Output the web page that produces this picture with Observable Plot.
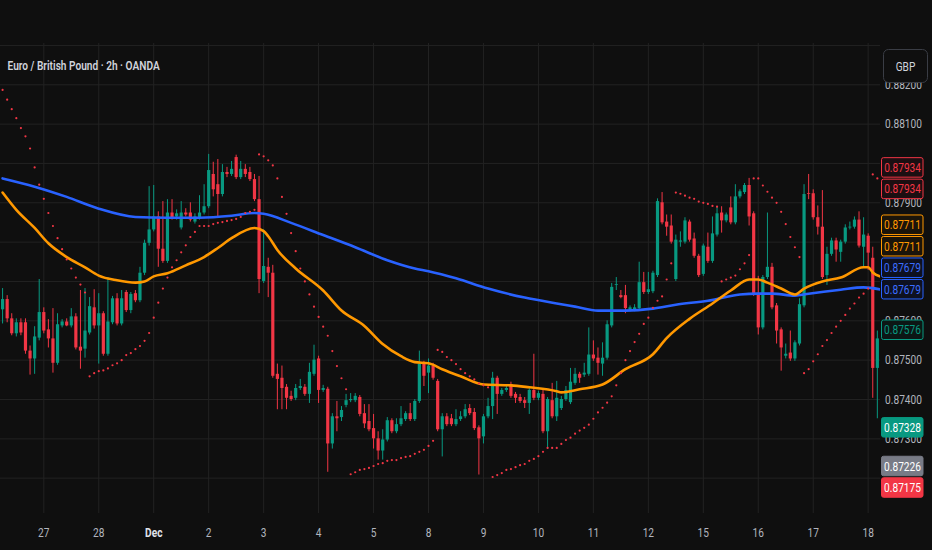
<!DOCTYPE html>
<html><head><meta charset="utf-8">
<script src="https://cdn.jsdelivr.net/npm/d3@7"></script>
<script src="https://cdn.jsdelivr.net/npm/@observablehq/plot@0.6"></script>
<style>
html,body{margin:0;padding:0;background:#0f0f0f;}
#chart svg{display:block}
</style></head><body><div id="chart"></div>
<script>
// ---- Data: EUR/GBP 2h candles ----
const open = [0.87628,0.87654,0.87605,0.87567,0.87595,0.87595,0.87523,0.87503,0.87556,0.87621,
0.87577,0.87554,0.87492,0.87587,0.87597,0.87587,0.87610,0.87533,0.87528,0.87569,
0.87633,0.87587,0.87618,0.87515,0.87595,0.87656,0.87592,0.87672,0.87626,0.87669,
0.87651,0.87721,0.87797,0.87831,0.87864,0.87782,0.87751,0.87874,0.87864,0.87836,
0.87874,0.87874,0.87851,0.87862,0.87874,0.87890,0.87972,0.87946,0.87921,0.87977,
0.87972,0.88015,0.87964,0.87985,0.87977,0.87959,0.87908,0.87700,0.87736,0.87721,
0.87464,0.87454,0.87431,0.87408,0.87403,0.87428,0.87431,0.87413,0.87464,0.87503,
0.87423,0.87426,0.87287,0.87356,0.87354,0.87385,0.87397,0.87397,0.87405,0.87364,
0.87344,0.87326,0.87300,0.87269,0.87297,0.87346,0.87318,0.87336,0.87349,0.87364,
0.87349,0.87395,0.87492,0.87467,0.87485,0.87446,0.87323,0.87356,0.87351,0.87336,
0.87349,0.87356,0.87377,0.87367,0.87328,0.87305,0.87356,0.87382,0.87454,0.87413,
0.87423,0.87438,0.87413,0.87405,0.87397,0.87390,0.87423,0.87403,0.87413,0.87318,
0.87397,0.87356,0.87377,0.87400,0.87392,0.87441,0.87464,0.87462,0.87464,0.87513,
0.87505,0.87490,0.87505,0.87587,0.87690,0.87664,0.87664,0.87628,0.87628,0.87631,
0.87697,0.87672,0.87674,0.87715,0.87900,0.87851,0.87841,0.87705,0.87800,0.87800,
0.87851,0.87808,0.87764,0.87718,0.87787,0.87751,0.87818,0.87874,0.87854,0.87887,
0.87849,0.87915,0.87926,0.87944,0.87872,0.87669,0.87582,0.87710,0.87736,0.87638,
0.87577,0.87510,0.87518,0.87503,0.87541,0.87638,0.87923,0.87923,0.87862,0.87838,
0.87715,0.87769,0.87803,0.87774,0.87800,0.87836,0.87838,0.87856,0.87787,0.87815,
0.87759,0.87479,0.87554];
const high = [0.87682,0.87664,0.87618,0.87605,0.87605,0.87605,0.87536,0.87585,0.87705,0.87633,
0.87603,0.87631,0.87618,0.87603,0.87605,0.87631,0.87618,0.87677,0.87682,0.87659,
0.87679,0.87669,0.87623,0.87710,0.87662,0.87669,0.87677,0.87677,0.87672,0.87677,
0.87736,0.87805,0.87941,0.87944,0.87877,0.87903,0.87908,0.87908,0.87882,0.87903,
0.87885,0.87900,0.87872,0.87918,0.87946,0.88023,0.88003,0.88010,0.87997,0.87990,
0.88005,0.88021,0.88005,0.87997,0.87990,0.87972,0.87967,0.87831,0.87759,0.87741,
0.87490,0.87485,0.87438,0.87421,0.87438,0.87451,0.87438,0.87492,0.87538,0.87510,
0.87436,0.87431,0.87364,0.87395,0.87382,0.87413,0.87415,0.87415,0.87410,0.87387,
0.87387,0.87362,0.87318,0.87323,0.87354,0.87351,0.87351,0.87382,0.87369,0.87390,
0.87400,0.87523,0.87497,0.87503,0.87492,0.87451,0.87364,0.87364,0.87362,0.87374,
0.87369,0.87387,0.87387,0.87377,0.87333,0.87362,0.87403,0.87469,0.87459,0.87428,
0.87436,0.87444,0.87418,0.87413,0.87405,0.87428,0.87515,0.87421,0.87428,0.87405,
0.87441,0.87446,0.87408,0.87433,0.87479,0.87479,0.87469,0.87492,0.87582,0.87549,
0.87531,0.87544,0.87600,0.87695,0.87710,0.87677,0.87690,0.87638,0.87641,0.87749,
0.87723,0.87723,0.87726,0.87910,0.87926,0.87869,0.87869,0.87818,0.87826,0.87862,
0.87856,0.87823,0.87769,0.87795,0.87823,0.87864,0.87890,0.87890,0.87874,0.87915,
0.87946,0.87933,0.87949,0.87962,0.87877,0.87713,0.87715,0.87874,0.87746,0.87644,
0.87582,0.87541,0.87574,0.87549,0.87656,0.87946,0.87972,0.87933,0.87892,0.87931,
0.87787,0.87810,0.87810,0.87805,0.87844,0.87851,0.87864,0.87877,0.87862,0.87821,
0.87787,0.87574,0.87582];
const low = [0.87592,0.87595,0.87562,0.87559,0.87562,0.87515,0.87462,0.87464,0.87549,0.87567,
0.87531,0.87467,0.87487,0.87582,0.87585,0.87582,0.87526,0.87477,0.87505,0.87564,
0.87579,0.87490,0.87510,0.87510,0.87590,0.87587,0.87587,0.87621,0.87618,0.87646,
0.87646,0.87715,0.87790,0.87826,0.87736,0.87746,0.87746,0.87856,0.87856,0.87831,
0.87864,0.87851,0.87846,0.87856,0.87869,0.87885,0.87915,0.87864,0.87915,0.87964,
0.87967,0.87959,0.87959,0.87964,0.87954,0.87903,0.87669,0.87695,0.87659,0.87454,
0.87374,0.87374,0.87374,0.87395,0.87397,0.87423,0.87408,0.87390,0.87459,0.87390,
0.87418,0.87215,0.87274,0.87318,0.87344,0.87379,0.87392,0.87392,0.87356,0.87326,
0.87318,0.87274,0.87246,0.87246,0.87292,0.87313,0.87313,0.87331,0.87344,0.87344,
0.87344,0.87390,0.87433,0.87415,0.87449,0.87318,0.87254,0.87331,0.87331,0.87331,
0.87344,0.87351,0.87359,0.87321,0.87208,0.87287,0.87351,0.87349,0.87362,0.87408,
0.87418,0.87403,0.87390,0.87390,0.87377,0.87362,0.87397,0.87397,0.87313,0.87274,
0.87351,0.87344,0.87372,0.87395,0.87387,0.87436,0.87441,0.87456,0.87459,0.87497,
0.87462,0.87459,0.87500,0.87582,0.87677,0.87656,0.87618,0.87623,0.87623,0.87626,
0.87667,0.87667,0.87669,0.87710,0.87844,0.87815,0.87795,0.87700,0.87787,0.87795,
0.87800,0.87759,0.87710,0.87713,0.87746,0.87746,0.87813,0.87823,0.87849,0.87844,
0.87844,0.87910,0.87921,0.87841,0.87662,0.87564,0.87577,0.87705,0.87628,0.87541,
0.87472,0.87503,0.87497,0.87497,0.87536,0.87633,0.87908,0.87856,0.87818,0.87705,
0.87690,0.87764,0.87749,0.87749,0.87795,0.87831,0.87833,0.87785,0.87736,0.87728,
0.87403,0.87351,0.87549];
const close = [0.87654,0.87605,0.87567,0.87595,0.87569,0.87523,0.87503,0.87559,0.87621,0.87574,
0.87554,0.87492,0.87590,0.87597,0.87587,0.87610,0.87531,0.87523,0.87574,0.87636,
0.87587,0.87618,0.87515,0.87597,0.87656,0.87592,0.87656,0.87626,0.87667,0.87651,
0.87721,0.87797,0.87831,0.87864,0.87782,0.87751,0.87874,0.87862,0.87872,0.87874,
0.87869,0.87856,0.87864,0.87874,0.87890,0.87982,0.87933,0.87921,0.87977,0.87972,
0.87985,0.87964,0.87985,0.87972,0.87959,0.87908,0.87705,0.87738,0.87721,0.87459,
0.87451,0.87428,0.87403,0.87400,0.87428,0.87433,0.87413,0.87469,0.87500,0.87423,
0.87428,0.87287,0.87356,0.87351,0.87372,0.87397,0.87400,0.87408,0.87362,0.87338,
0.87323,0.87300,0.87269,0.87297,0.87346,0.87318,0.87336,0.87351,0.87364,0.87349,
0.87395,0.87490,0.87459,0.87485,0.87454,0.87323,0.87356,0.87336,0.87336,0.87349,
0.87356,0.87374,0.87364,0.87326,0.87300,0.87356,0.87382,0.87454,0.87413,0.87423,
0.87428,0.87408,0.87403,0.87395,0.87390,0.87423,0.87403,0.87415,0.87318,0.87400,
0.87356,0.87403,0.87400,0.87423,0.87444,0.87464,0.87454,0.87467,0.87513,0.87503,
0.87492,0.87505,0.87590,0.87685,0.87692,0.87659,0.87631,0.87633,0.87633,0.87697,
0.87672,0.87679,0.87721,0.87903,0.87849,0.87838,0.87800,0.87805,0.87803,0.87854,
0.87805,0.87764,0.87715,0.87790,0.87751,0.87821,0.87872,0.87854,0.87869,0.87849,
0.87915,0.87928,0.87944,0.87864,0.87667,0.87582,0.87710,0.87736,0.87633,0.87574,
0.87531,0.87515,0.87503,0.87544,0.87641,0.87921,0.87921,0.87862,0.87838,0.87710,
0.87769,0.87803,0.87780,0.87800,0.87836,0.87838,0.87856,0.87790,0.87818,0.87772,
0.87479,0.87554,0.87576];
// Parabolic SAR, one dot per candle
const sar = [0.88187,0.88162,0.88138,0.88115,0.88090,0.88069,0.88038,0.87990,0.87946,0.87910,
0.87874,0.87841,0.87810,0.87782,0.87756,0.87733,0.87710,0.87692,0.87672,0.87459,
0.87467,0.87472,0.87474,0.87479,0.87487,0.87492,0.87500,0.87513,0.87518,0.87528,
0.87536,0.87549,0.87569,0.87608,0.87646,0.87682,0.87710,0.87736,0.87754,0.87774,
0.87792,0.87813,0.87826,0.87841,0.87841,0.87841,0.87846,0.87849,0.87851,0.87854,
0.87856,0.87859,0.87864,0.87874,0.87877,0.87882,0.88023,0.88018,0.88008,0.87995,
0.87962,0.87915,0.87872,0.87823,0.87777,0.87733,0.87700,0.87667,0.87636,0.87610,
0.87585,0.87562,0.87523,0.87485,0.87454,0.87426,0.87210,0.87215,0.87221,0.87223,
0.87226,0.87231,0.87236,0.87238,0.87244,0.87246,0.87246,0.87251,0.87254,0.87256,
0.87262,0.87267,0.87272,0.87282,0.87295,0.87526,0.87521,0.87508,0.87500,0.87490,
0.87477,0.87467,0.87459,0.87451,0.87441,0.87436,0.87431,0.87203,0.87208,0.87213,
0.87221,0.87223,0.87228,0.87233,0.87236,0.87244,0.87249,0.87256,0.87267,0.87277,
0.87277,0.87277,0.87287,0.87297,0.87303,0.87313,0.87321,0.87328,0.87336,0.87351,
0.87367,0.87379,0.87392,0.87408,0.87436,0.87467,0.87500,0.87523,0.87546,0.87567,
0.87592,0.87608,0.87633,0.87651,0.87662,0.87705,0.87746,0.87926,0.87923,0.87918,
0.87913,0.87910,0.87903,0.87900,0.87897,0.87892,0.87890,0.87700,0.87705,0.87710,
0.87715,0.87731,0.87746,0.87767,0.87962,0.87962,0.87944,0.87928,0.87913,0.87900,
0.87877,0.87846,0.87813,0.87787,0.87762,0.87467,0.87477,0.87497,0.87515,0.87536,
0.87551,0.87569,0.87585,0.87600,0.87615,0.87631,0.87644,0.87659,0.87669,0.87682,
0.87972,0.87962,0.87954];
// Moving averages, sampled at candle indices
const slowIdx = [0,7,14,21,29,36,43,50,55,57,63,70,77,84,90,93,99,106,114,121,125,130,136,142,147,154,161,165,168,173,176,183,188,192];
const slowVal = [0.87962,0.87941,0.87915,0.87885,0.87864,0.87862,0.87862,0.87867,0.87874,0.87872,
0.87849,0.87818,0.87787,0.87754,0.87733,0.87726,0.87708,0.87682,0.87659,0.87644,
0.87636,0.87626,0.87626,0.87631,0.87641,0.87651,0.87667,0.87669,0.87669,0.87664,
0.87669,0.87679,0.87685,0.87679];
const fastIdx = [0,3,7,10,14,18,21,25,29,31,33,36,40,44,47,50,55,57,58,60,64,70,74,79,83,87,90,93,96,100,105,111,115,121,122,126,131,136,142,145,150,155,159,163,165,167,170,173,175,179,183,188,189,190,192];
const fastVal = [0.87926,0.87882,0.87836,0.87797,0.87762,0.87736,0.87715,0.87703,0.87697,0.87700,
0.87713,0.87721,0.87741,0.87762,0.87785,0.87810,0.87836,0.87828,0.87815,0.87780,
0.87733,0.87677,0.87626,0.87587,0.87541,0.87510,0.87495,0.87492,0.87477,0.87459,
0.87438,0.87436,0.87431,0.87421,0.87418,0.87426,0.87438,0.87477,0.87515,0.87556,
0.87605,0.87644,0.87677,0.87705,0.87705,0.87697,0.87682,0.87667,0.87682,0.87700,
0.87710,0.87736,0.87736,0.87723,0.87711];
// Axis ticks
const gridTicks  = [0.872,0.873,0.874,0.875,0.876,0.877,0.878,0.879,0.880,0.881,0.882,0.883];
const priceTicks = [0.872,0.873,0.874,0.875,0.876,0.877,0.878,0.879,0.880,0.881,0.882];
const dayTickBar = [9,21,33,45,57,69,81,93,105,117,129,141,153,165,177,189];
const dayLabels = ["27","28","Dec","2","3","4","5","8","9","10","11","12","15","16","17","18"];
// Right-hand value labels
const markerValues = [0.87934,0.87934,0.87711,0.87711,0.87679,0.87679,0.87576,0.87328,0.87226,0.87175];
const markerKinds  = ["sar","sar","fast","fast","slow","slow","last","bid","mid","ask"];
const titleText = "Euro / British Pound · 2h · OANDA";
const currencyText = "GBP";

// ---- Build ----
const W = 932, H = 550, MT = 43, MB = 37, ML = 0, MR = 52;
const yDomain = [0.871102, 0.883049];
const UP = "#089981", DN = "#f23645";
const bars = open.map((o, i) => ({i, open: o, high: high[i], low: low[i], close: close[i], c: close[i] >= o ? UP : DN}));
const sarPts = sar.map((v, i) => ({i, v}));
const slow = slowIdx.map((i, k) => ({i, v: slowVal[k]}));
const fast = fastIdx.map((i, k) => ({i, v: fastVal[k]}));
const days = dayTickBar.map((i, k) => ({i, label: dayLabels[k]}));

// Lay out the value boxes on the price axis (stacked upward from the bottom, like the original)
const yPre = Plot.scale({y: {domain: yDomain, range: [H - MB, MT]}});
const BOX_H = 19.5, STEP = 21.5;
const placed = markerValues.map((v, k) => ({v, kind: markerKinds[k], y: yPre.apply(v)}));
const order = placed.map((d, k) => k).sort((a, b) => placed[b].y - placed[a].y);
let prev = Infinity;
for (const k of order) { const p = placed[k]; p.py = Math.min(p.y, prev - STEP); prev = p.py; }
// Axis labels mostly hidden behind a value box are not drawn (they are covered in the original)
const covered = t => {
  const y = yPre.apply(t), a = y - 4.6, b = y + 4.6;
  let c = 0;
  for (const p of placed) c += Math.max(0, Math.min(b, p.py + BOX_H / 2) - Math.max(a, p.py - BOX_H / 2));
  return c / (b - a) > 0.6;
};
const shownTicks = priceTicks.filter(t => !covered(t));

const chart = Plot.plot({
  width: W, height: H,
  marginTop: MT, marginBottom: MB, marginLeft: ML, marginRight: MR,
  style: {background: "#0f0f0f", color: "#b2b5be", fontFamily: "Roboto, 'Noto Sans', sans-serif", fontSize: "13px", overflow: "visible"},
  x: {domain: [-0.454, 191.69], axis: null},
  y: {domain: yDomain, axis: null},
  marks: [
    Plot.gridY(gridTicks, {stroke: "#222222", strokeOpacity: 1}),
    Plot.gridX(dayTickBar, {stroke: "#222222", strokeOpacity: 1}),
    Plot.ruleX(bars, {x: "i", y1: "low", y2: "high", stroke: "c", strokeWidth: 1, clip: true}),
    Plot.ruleX(bars, {x: "i", y1: "open", y2: "close", stroke: "c", strokeWidth: 3.2, clip: true}),
    Plot.line(slow, {x: "i", y: "v", stroke: "#2962ff", strokeWidth: 2.6, curve: "monotone-x", clip: true}),
    Plot.line(fast, {x: "i", y: "v", stroke: "#ff9800", strokeWidth: 2.6, curve: "monotone-x", clip: true}),
    Plot.dot(sarPts, {x: "i", y: "v", r: 1.1, fill: "#f23645", stroke: null, clip: true}),
    Plot.text([titleText], {frameAnchor: "top-left", dx: 7, dy: 22, lineAnchor: "middle", textAnchor: "start", fill: "#d1d4dc", fontWeight: 600, fontSize: 13}),
    Plot.text(days.filter(d => d.label !== "Dec"), {x: "i", frameAnchor: "bottom", dy: 19, lineAnchor: "middle", text: "label", fill: "#b2b5be", fontSize: 13}),
    Plot.text(days.filter(d => d.label === "Dec"), {x: "i", frameAnchor: "bottom", dy: 19, lineAnchor: "middle", text: "label", fill: "#e0e3eb", fontWeight: 700, fontSize: 13}),
    Plot.text(shownTicks, {y: d => d, frameAnchor: "right", dx: 23, textAnchor: "middle", lineAnchor: "middle", text: d => d.toFixed(5), fill: "#b2b5be", fontSize: 13})
  ]
});
document.getElementById("chart").appendChild(chart);

// Overlay boxes on the price axis
const svg = d3.select(chart);
const layer = svg.append("g");
layer.append("rect").attr("x", 883.5).attr("y", 49.5).attr("width", 44).attr("height", 33).attr("rx", 5)
  .attr("fill", "#0f0f0f").attr("stroke", "#3a3d45");
layer.append("text").attr("x", 905.5).attr("y", 66).attr("dy", "0.35em").attr("text-anchor", "middle")
  .attr("fill", "#d1d4dc").attr("font-size", 13).text(currencyText);

const kindStyle = {
  sar:  {stroke: "#f23645", fill: "#1c0f12", text: "#f23645"},
  fast: {stroke: "#ff9800", fill: "#1a140a", text: "#ff9800"},
  slow: {stroke: "#2962ff", fill: "#0e1120", text: "#3b6dff"},
  last: {stroke: "#089981", fill: "#0c1715", text: "#089981"},
  bid:  {stroke: "#089981", fill: "#089981", text: "#ffffff"},
  mid:  {stroke: "#787b86", fill: "#787b86", text: "#ffffff"},
  ask:  {stroke: "#f23645", fill: "#f23645", text: "#ffffff"}
};
for (const p of placed) {
  const s = kindStyle[p.kind];
  layer.append("rect").attr("x", 881.5).attr("y", p.py - BOX_H / 2).attr("width", 41.5).attr("height", BOX_H).attr("rx", 2)
    .attr("fill", s.fill).attr("stroke", s.stroke).attr("stroke-width", 1);
  layer.append("text").attr("x", 902.5).attr("y", p.py).attr("dy", "0.35em").attr("text-anchor", "middle")
    .attr("fill", s.text).attr("font-size", 13).text(p.v.toFixed(5));
}

// The reference's lettering is horizontally compressed: condense every label around its anchor
function condense(root, sx) {
  root.querySelectorAll("text").forEach(t => {
    const b = t.getBBox();
    const a = getComputedStyle(t).textAnchor;
    const cx = a === "middle" ? b.x + b.width / 2 : a === "end" ? b.x + b.width : b.x;
    const tr = t.getAttribute("transform") || "";
    t.setAttribute("transform", `${tr} translate(${cx},0) scale(${sx},1) translate(${-cx},0)`);
  });
}
condense(chart, 0.78);
</script>
</body></html>
